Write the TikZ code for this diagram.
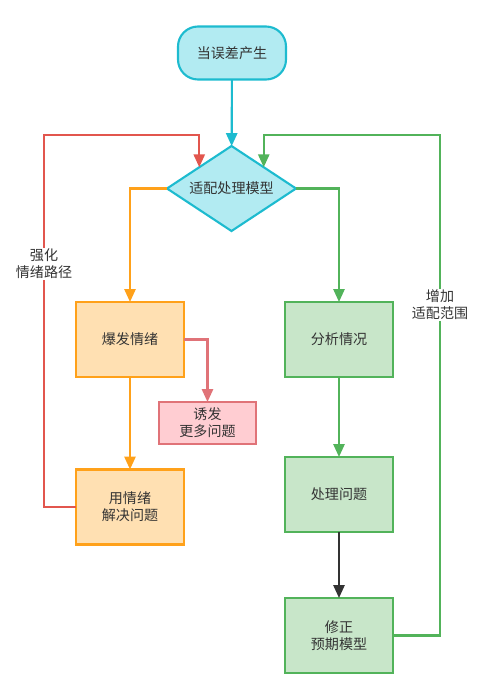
\documentclass[tikz,border=0pt]{standalone}
\usepackage{fontspec}
\setmainfont{Noto Sans CJK SC}
\usetikzlibrary{positioning,shapes.geometric,arrows.meta}
\definecolor{cyanline}{HTML}{1DBBCF}
\definecolor{cyanfill}{HTML}{B2EBF2}
\definecolor{orangeline}{HTML}{FFA11A}
\definecolor{orangefill}{HTML}{FFE0B2}
\definecolor{greenline}{HTML}{52B35A}
\definecolor{greenfill}{HTML}{C8E6C9}
\definecolor{pinkline}{HTML}{E07378}
\definecolor{pinkfill}{HTML}{FFCDD2}
\definecolor{redline}{HTML}{E2564E}
\definecolor{textgray}{HTML}{333333}

\begin{document}
\begin{tikzpicture}[x=0.03cm, y=-0.03cm,
    every node/.style={font=\fontsize{12}{14.5}\selectfont, text=textgray, align=center, outer sep=0pt},
    box/.style={draw, line width=1.8pt, minimum width=3.24cm, minimum height=2.25cm},
    orangebox/.style={box, draw=orangeline, fill=orangefill},
    greenbox/.style={box, draw=greenline, fill=greenfill},
    flow/.style={line width=1.8pt, -{Triangle[width=9.5pt, length=11pt]}},
    looplabel/.style={fill=white, inner sep=1pt}]
  \useasboundingbox (0,0) rectangle (483,700);

  % --- start and decision ---
  \node[draw=cyanline, fill=cyanfill, line width=1.8pt, rounded corners=0.6cm,
        minimum width=3.24cm, minimum height=1.59cm] (start) at (232,53) {当误差产生};
  \node[diamond, aspect=1.52, draw=cyanline, fill=cyanfill, line width=1.8pt,
        minimum width=3.87cm, minimum height=2.55cm, inner sep=0pt] (match) at (231.5,188.5) {适配处理模型};
  \draw[flow, cyanline] (start) -- (match);

  % --- left branch ---
  \node[orangebox] (baofa) at (130,339.5) {爆发情绪};
  \node[orangebox] (yong) at (130,507) {用情绪\\解决问题};
  \node[draw=pinkline, fill=pinkfill, line width=1.8pt,
        minimum width=2.91cm, minimum height=1.26cm] (youfa) at (207.5,423) {诱发\\更多问题};
  \draw[flow, orangeline] (match.west) -| (baofa.north);
  \draw[flow, orangeline] (baofa) -- (yong);
  \draw[flow, pinkline] (baofa.east) -| (youfa.north);

  % red loop back
  \coordinate (redcorner) at (44,135);
  \draw[flow, redline] (yong.west) -| (redcorner) -| (match.north west);
  \node[looplabel] (qianghua) at (44,264) {强化\\情绪路径};

  % --- right branch ---
  \node[greenbox] (fenxi) at (339,339.5) {分析情况};
  \node[greenbox] (chuli) at (339,494.5) {处理问题};
  \node[greenbox] (xiuzheng) at (339,635.5) {修正\\预期模型};
  \draw[flow, greenline] (match.east) -| (fenxi.north);
  \draw[flow, greenline] (fenxi) -- (chuli);
  \draw[flow, textgray] (chuli) -- (xiuzheng);

  % green loop back
  \coordinate (greencorner) at (440,135);
  \draw[flow, greenline] (xiuzheng.east) -| (greencorner) -| (match.north east);
  \node[looplabel] (zengjia) at (440,305) {增加\\适配范围};

\end{tikzpicture}
\end{document}
